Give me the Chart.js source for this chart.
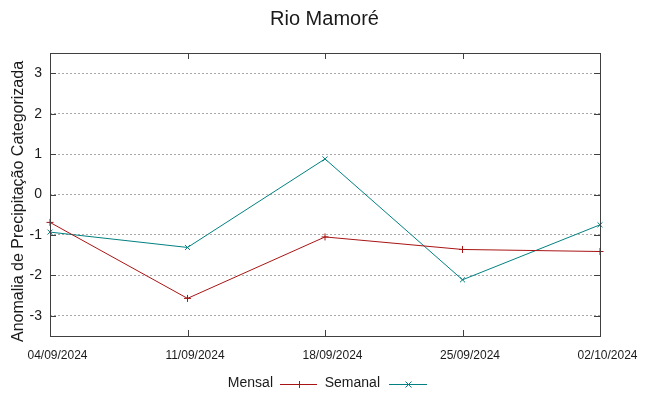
<!DOCTYPE html>
<html>
<head>
<meta charset="utf-8">
<script src="https://cdn.jsdelivr.net/npm/chart.js@4/dist/chart.umd.min.js"></script>
<style>
  html, body { margin: 0; padding: 0; background: #fff; }
  #wrap { width: 649px; height: 396px; position: relative; }
</style>
</head>
<body>
<div id="wrap"><canvas id="c" width="649" height="396"></canvas></div>
<script>
const categories = ['04/09/2024', '11/09/2024', '18/09/2024', '25/09/2024', '02/10/2024'];
const mensal = [-0.69, -2.57, -1.05, -1.36, -1.41];
const semanal = [-0.93, -1.31, 0.88, -2.11, -0.75];
const yTicks = [-3, -2, -1, 0, 1, 2, 3];
const seriesNames = ['Mensal', 'Semanal'];
const titleText = 'Rio Mamoré';
const yTitle = 'Anomalia de Precipitação Categorizada';

const FONT = "'Liberation Sans', Arial, sans-serif";
const RED = '#a81414';
const TEAL = '#008080';
const AXIS = '#404040';
const TEXT = '#1a1a1a';

const framePlugin = {
  id: 'frame',
  afterDatasetsDraw(chart) {
    const { ctx, chartArea: a, scales: { x, y } } = chart;
    ctx.save();
    ctx.strokeStyle = AXIS;
    ctx.lineWidth = 1;
    ctx.strokeRect(Math.round(a.left) + 0.5, Math.round(a.top) + 0.5,
                   Math.round(a.right - a.left), Math.round(a.bottom - a.top));
    ctx.beginPath();
    yTicks.forEach(v => {
      const py = Math.round(y.getPixelForValue(v)) + 0.5;
      ctx.moveTo(a.left, py); ctx.lineTo(a.left + 6, py);
      ctx.moveTo(a.right, py); ctx.lineTo(a.right - 6, py);
    });
    categories.forEach((c, i) => {
      const px = Math.round(x.getPixelForValue(i)) + 0.5;
      ctx.moveTo(px, a.bottom); ctx.lineTo(px, a.bottom - 6);
      ctx.moveTo(px, a.top); ctx.lineTo(px, a.top + 6);
    });
    ctx.stroke();
    ctx.restore();
  },
  afterDraw(chart) {
    const { ctx, chartArea: a } = chart;
    ctx.save();
    // title centred on the canvas
    ctx.fillStyle = TEXT;
    ctx.font = '20px ' + FONT;
    ctx.textAlign = 'center';
    ctx.textBaseline = 'middle';
    ctx.fillText(titleText, chart.width / 2, 19);
    // y-axis title
    ctx.save();
    ctx.font = '16px ' + FONT;
    ctx.translate(19, (a.top + a.bottom) / 2 + 7);
    ctx.rotate(-Math.PI / 2);
    ctx.fillText(yTitle, 0, 0);
    ctx.restore();
    // legend
    ctx.font = '14px ' + FONT;
    ctx.textAlign = 'right';
    const items = [
      { name: seriesNames[0], color: RED, style: 'plus', textRight: 273, x0: 280, x1: 317 },
      { name: seriesNames[1], color: TEAL, style: 'x', textRight: 380, x0: 389, x1: 427 }
    ];
    const ly = 383;
    const lineY = 384.5;
    items.forEach(it => {
      ctx.fillText(it.name, it.textRight, ly);
      ctx.strokeStyle = it.color;
      ctx.lineWidth = 1;
      ctx.beginPath();
      ctx.moveTo(it.x0, lineY); ctx.lineTo(it.x1, lineY);
      const cx = Math.round((it.x0 + it.x1) / 2) + 0.5;
      if (it.style === 'plus') {
        ctx.moveTo(cx, lineY - 3.5); ctx.lineTo(cx, lineY + 3.5);
      } else {
        ctx.moveTo(cx - 3, lineY - 3); ctx.lineTo(cx + 3, lineY + 3);
        ctx.moveTo(cx + 3, lineY - 3); ctx.lineTo(cx - 3, lineY + 3);
      }
      ctx.stroke();
    });
    ctx.restore();
  }
};

new Chart(document.getElementById('c'), {
  type: 'line',
  data: {
    labels: categories,
    datasets: [
      {
        label: seriesNames[0], data: mensal,
        borderColor: RED, backgroundColor: RED, borderWidth: 1,
        pointStyle: 'cross', pointRadius: 3.5, pointBorderWidth: 1,
        pointBorderColor: RED, tension: 0, fill: false
      },
      {
        label: seriesNames[1], data: semanal, yAxisID: 'y',
        borderColor: TEAL, backgroundColor: TEAL, borderWidth: 1,
        pointStyle: 'crossRot', pointRadius: 3.5, pointBorderWidth: 1,
        pointBorderColor: TEAL, tension: 0, fill: false
      }
    ]
  },
  options: {
    responsive: false,
    animation: false,
    devicePixelRatio: 1,
    layout: { padding: { left: 0, right: 0, top: 53, bottom: 34 } },
    plugins: {
      legend: { display: false },
      tooltip: { enabled: false },
      title: { display: false }
    },
    scales: {
      x: {
        type: 'category',
        offset: false,
        afterFit: s => { s.height = 26; },
        grid: { display: false, drawTicks: false },
        border: { display: false },
        ticks: {
          color: TEXT, font: { family: FONT, size: 12 },
          padding: 12, labelOffset: 7.5, maxRotation: 0, autoSkip: false
        }
      },
      y: {
        min: -3.5, max: 3.5,
        afterBuildTicks: s => { s.ticks = yTicks.map(v => ({ value: v })); },
        afterFit: s => { s.width = 50; },
        grid: { color: '#a8a8a8', lineWidth: 1, drawTicks: false },
        border: { display: false, dash: [2, 2] },
        ticks: { color: TEXT, font: { family: FONT, size: 14 }, padding: 8 }
      },
      yRight: {
        position: 'right',
        min: -3.5, max: 3.5,
        afterFit: s => { s.width = 49; },
        grid: { display: false, drawTicks: false },
        border: { display: false },
        ticks: { display: false }
      }
    }
  },
  plugins: [framePlugin]
});
</script>
</body>
</html>
